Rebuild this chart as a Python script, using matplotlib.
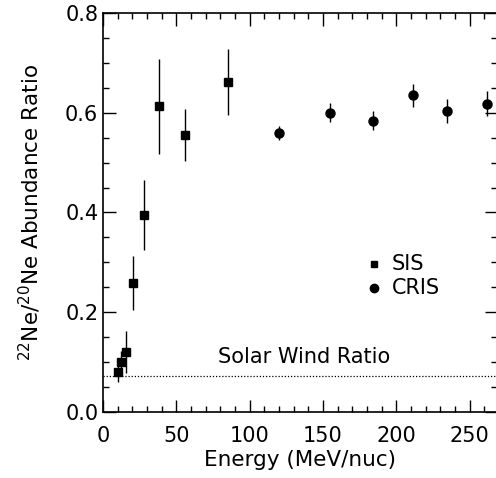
import matplotlib
matplotlib.use("Agg")
from matplotlib import pyplot as plt
from matplotlib.ticker import MultipleLocator

# SIS points
sis_energy = [10, 12.5, 15.5, 20.5, 28, 38, 56, 85]
sis_ratio = [0.080, 0.100, 0.120, 0.259, 0.395, 0.613, 0.555, 0.662]
sis_err = [0.020, 0.022, 0.042, 0.054, 0.070, 0.095, 0.052, 0.066]

# CRIS points
cris_energy = [120, 154.5, 184, 211.5, 234.5, 262]
cris_ratio = [0.559, 0.600, 0.584, 0.635, 0.604, 0.618]
cris_err = [0.014, 0.019, 0.019, 0.023, 0.024, 0.025]

solar_wind = 0.073

plt.rcParams['font.family'] = ['DejaVu Sans']
fig = plt.figure(figsize=(4.96, 4.78), dpi=100)
ax = fig.add_axes([0.208, 0.138, 0.795, 0.835])

ax.errorbar(sis_energy, sis_ratio, yerr=sis_err, fmt='s', color='black',
            markersize=5.5, elinewidth=1.0, capsize=0)
ax.errorbar(cris_energy, cris_ratio, yerr=cris_err, fmt='o', color='black',
            markersize=6.5, elinewidth=1.0, capsize=0)

ax.axhline(solar_wind, color='black', linestyle=(0, (1, 1.5)), linewidth=0.9)
ax.text(137, 0.090, "Solar Wind Ratio", ha='center', va='bottom', fontsize=15)

# legend drawn by hand like the original
ax.plot([184.5], [0.296], 's', color='black', markersize=5)
ax.text(197, 0.296, "SIS", va='center', fontsize=15)
ax.plot([184.5], [0.249], 'o', color='black', markersize=6)
ax.text(197, 0.249, "CRIS", va='center', fontsize=15)

ax.set_xlim(0, 269)
ax.set_ylim(0, 0.8)
ax.xaxis.set_major_locator(MultipleLocator(50))
ax.xaxis.set_minor_locator(MultipleLocator(10))
ax.yaxis.set_major_locator(MultipleLocator(0.2))
ax.yaxis.set_minor_locator(MultipleLocator(0.05))
ax.yaxis.set_major_formatter(plt.FormatStrFormatter('%.1f'))
ax.tick_params(which='both', direction='in', top=True, right=True, labelsize=15)
ax.tick_params(which='major', length=9, width=1)
ax.tick_params(which='minor', length=4.5, width=1)
ax.tick_params(axis='x', which='major', pad=10)
for s in ax.spines.values():
    s.set_linewidth(1.2)

ax.set_xlabel("Energy (MeV/nuc)", fontsize=15.5, labelpad=3)
ax.set_ylabel(r"$^{22}$Ne/$^{20}$Ne Abundance Ratio", fontsize=15.5, labelpad=16)

fig.savefig("out.png", dpi=100)
